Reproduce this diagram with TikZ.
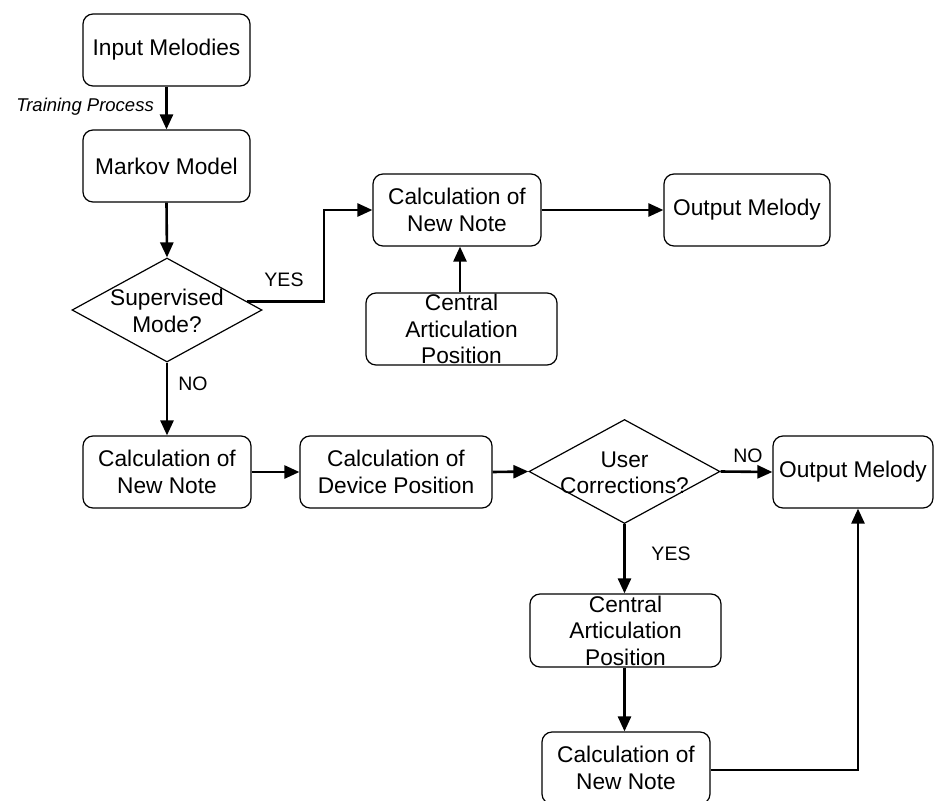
\documentclass[tikz,border=0pt]{standalone}
\usepackage{fontspec}
\setmainfont{Liberation Sans}
\usetikzlibrary{arrows.meta,shapes.geometric}
\tikzset{
  box/.style={draw, rounded corners=10pt, line width=1.2pt, minimum height=72pt, align=center, inner sep=0pt, font=\fontsize{22.7}{26.5}\selectfont},
  dia/.style={draw, diamond, line width=1.2pt, inner sep=0pt, minimum width=190pt, minimum height=104pt},
  dtext/.style={align=center, inner sep=0pt, font=\fontsize{22.7}{26.5}\selectfont},
  lbl/.style={inner sep=0pt, font=\fontsize{19.5}{22}\selectfont},
  conn/.style={line width=2.6pt, -{Triangle[length=15pt,width=13pt]}},
  plain/.style={line width=2.6pt}
}
\begin{document}
\begin{tikzpicture}[x=1pt,y=-1pt]
\useasboundingbox (0,0) rectangle (935,801);
% nodes
\node[box, minimum width=167pt] (in) at (166.5,50) {Input Melodies};
\node[box, minimum width=167pt] (mk) at (166.5,166) {Markov Model};
\node[dia] (sup) at (167,310) {};
\node[dtext] (supt) at (167,311) {Supervised\\Mode?};
\node[box, minimum width=168pt] (cn1) at (457,210) {Calculation of\\New Note};
\node[box, minimum width=166pt] (om1) at (747,210) {Output Melody};
\node[box, minimum width=191pt] (ca1) at (461.5,329) {Central\\Articulation\\Position};
\node[box, minimum width=168pt] (cn2) at (167,472) {Calculation of\\New Note};
\node[box, minimum width=192pt] (dp) at (396,472) {Calculation of\\Device Position};
\node[dia, minimum width=191pt] (uc) at (624.5,471.5) {};
\node[dtext] (uct) at (624.5,473) {User\\Corrections?};
\node[box, minimum width=160pt] (om2) at (853,472) {Output Melody};
\node[box, minimum width=191pt, minimum height=73pt] (ca2) at (625.5,630.5) {Central\\Articulation\\Position};
\node[box, minimum width=168pt] (cn3) at (626,768) {Calculation of\\New Note};
% labels
\node[anchor=east, inner sep=0pt, font=\fontsize{18.5}{21}\selectfont\itshape] (tp) at (154,107) {Training Process};
\node[lbl] (yes1) at (284,280) {YES};
\node[lbl] (no1) at (193,384) {NO};
\node[lbl] (no2) at (748,456) {NO};
\node[lbl] (yes2) at (671,554) {YES};
% coordinates
\coordinate (yesturn) at (324,302);
\coordinate (back) at (858,770);
% connectors
\draw[conn] (in.south) -- (mk.north);
\draw[conn] (mk.south) -- (sup.north);
\draw[conn] (sup.6) -- (sup.6 -| yesturn) |- (cn1.west);
\draw[conn] (ca1.north -| 460,0) -- (cn1.south -| 460,0);
\draw[conn] (cn1.east) -- (om1.west);
\draw[conn] (sup.south) -- (cn2.north);
\draw[conn] (cn2.east) -- (dp.west);
\draw[conn] (dp.east) -- (uc.west);
\draw[conn] (uc.east) -- (om2.west);
\draw[conn] (uc.south) -- (ca2.north -| uc.south);
\draw[conn] (ca2.south -| uc.south) -- (cn3.north -| uc.south);
\draw[conn] (cn3.east |- back) -- (back) -- (back |- om2.south);
\end{tikzpicture}
\end{document}
